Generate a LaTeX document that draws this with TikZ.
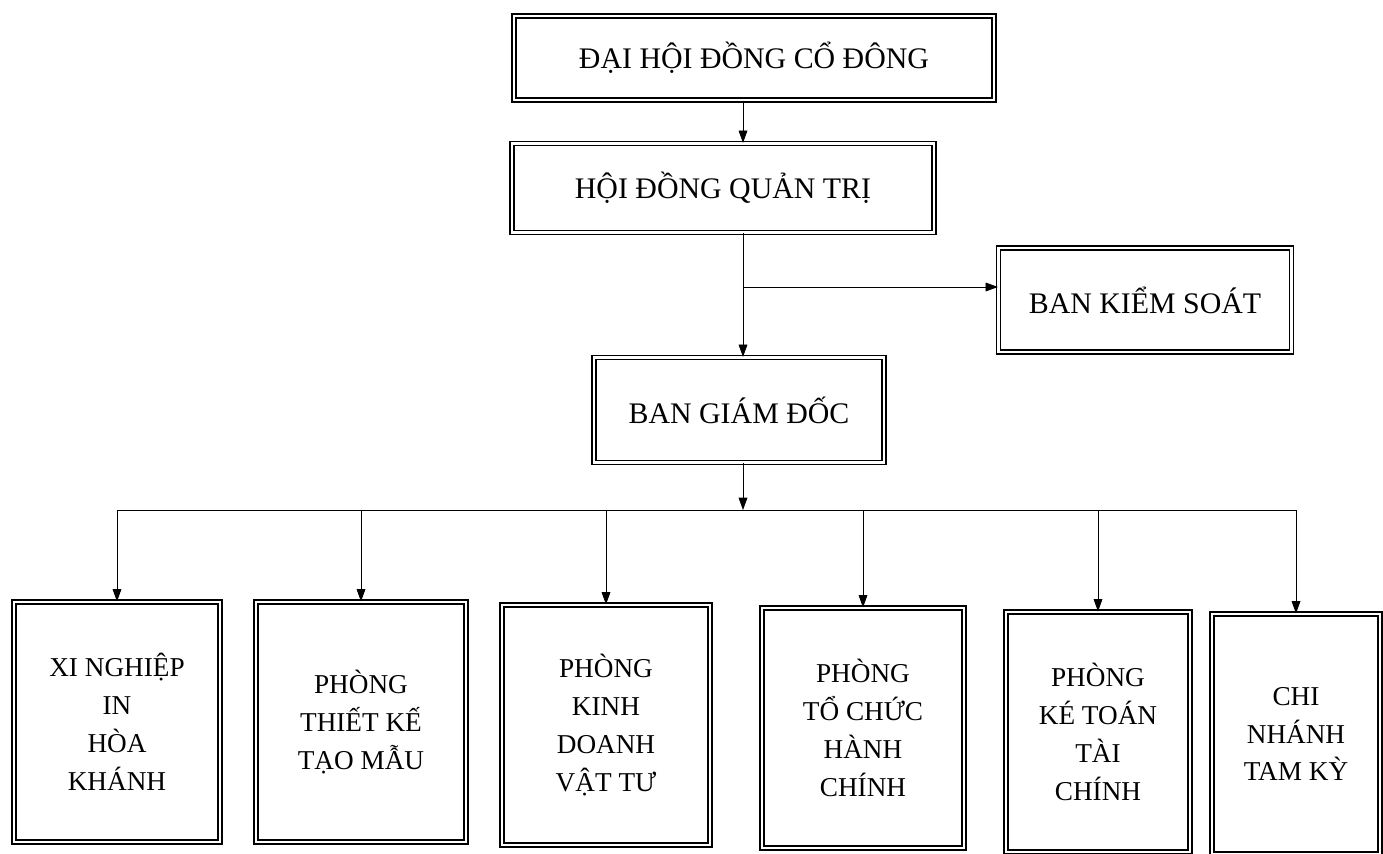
\documentclass[tikz,border=0pt]{standalone}
\usepackage{fontspec}
\setmainfont{Liberation Serif}
\usetikzlibrary{arrows.meta}
\usetikzlibrary{positioning}

\begin{document}
\begin{tikzpicture}[x=0.02cm, y=-0.02cm, >={Triangle[length=7pt,width=5pt]},
  box/.style={draw, double, double distance=1.6pt, line width=0.7pt, inner sep=0pt, align=center},
  topbox/.style={box, font=\fontsize{17}{22}\selectfont},
  unitbox/.style={box, minimum height=4.8cm, font=\fontsize{15.5}{21.6}\selectfont}]
  \useasboundingbox (0,0) rectangle (1383,854);
  % upper part
  \node[topbox, minimum width=9.6cm, minimum height=1.68cm] (dhcd) at (754,58) {ĐẠI HỘI ĐỒNG CỔ ĐÔNG};
  \node[topbox, minimum width=8.44cm, minimum height=1.78cm] (hdqt) at (723,188) {HỘI ĐỒNG QUẢN TRỊ};
  \node[topbox, minimum width=5.86cm, minimum height=2.08cm] (bks) at (1145,300) {BAN KIỂM SOÁT};
  \node[topbox, minimum width=5.8cm, minimum height=2.1cm] (bgd) at (739,410) {BAN GIÁM ĐỐC};
  \coordinate (spine) at (743,0);
  \coordinate (split) at (743,287);
  \coordinate (bus) at (0,510);
  \draw[->] (dhcd.south -| spine) -- (hdqt.north -| spine);
  \draw[->] (hdqt.south -| spine) -- (bgd.north -| spine);
  \draw[->] (split) -- (bks.west |- split);
  \draw[->] (bgd.south -| spine) -- (bus -| spine);
  % lower part
  \node[unitbox, minimum width=4.12cm] (xn) at (117,722) {XI NGHIỆP\\IN\\HÒA\\KHÁNH};
  \node[unitbox, minimum width=4.2cm] (tk) at (361,722) {PHÒNG\\THIẾT KẾ\\TẠO MẪU};
  \node[unitbox, minimum width=4.16cm] (kd) at (606,725) {PHÒNG\\KINH\\DOANH\\VẬT TƯ};
  \node[unitbox, minimum width=4.04cm] (tc) at (863,728) {PHÒNG\\TỔ CHỨC\\HÀNH\\CHÍNH};
  \node[unitbox, minimum width=3.68cm] (kt) at (1098,732) {PHÒNG\\KÉ TOÁN\\TÀI\\CHÍNH};
  \node[unitbox, minimum width=3.36cm] (cn) at (1296,734) {CHI\\NHÁNH\\TAM KỲ};
  \draw (xn.north |- bus) -- (cn.north |- bus);
  \foreach \n in {xn,tk,kd,tc,kt,cn}
    \draw[->] (\n.north |- bus) -- (\n.north);
\end{tikzpicture}
\end{document}
